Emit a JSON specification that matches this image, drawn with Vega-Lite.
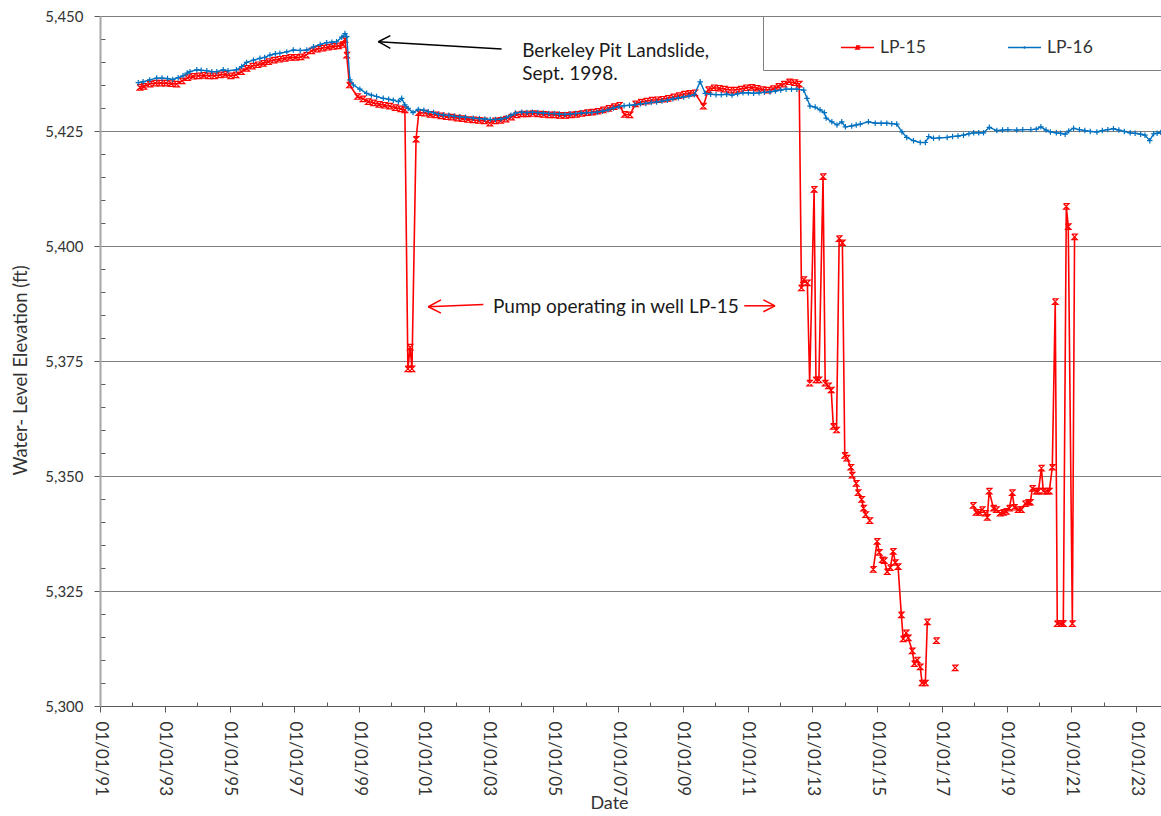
{
  "$schema": "https://vega.github.io/schema/vega-lite/v6.json",
  "width": 1061,
  "height": 690,
  "autosize": {"type": "none"},
  "padding": {"left": 100, "top": 16, "right": 0, "bottom": 110},
  "background": "white",
  "config": {"font": "Lato", "view": {"stroke": null}},
  "datasets": {
    "wl": [
      {"s":"LP-15","t":"1992-03-25","v":5434.5},{"s":"LP-15","t":"1992-05-10","v":5434.7},{"s":"LP-15","t":"1992-07-15","v":5435.2},{"s":"LP-15","t":"1992-09-15","v":5435.4},{"s":"LP-15","t":"1992-11-15","v":5435.4},
      {"s":"LP-15","t":"1993-01-15","v":5435.4},{"s":"LP-15","t":"1993-03-15","v":5435.3},{"s":"LP-15","t":"1993-05-15","v":5435.2},{"s":"LP-15","t":"1993-07-15","v":5435.9},{"s":"LP-15","t":"1993-09-15","v":5436.6},{"s":"LP-15","t":"1993-11-15","v":5436.9},
      {"s":"LP-15","t":"1994-01-15","v":5437.0},{"s":"LP-15","t":"1994-03-15","v":5437.1},{"s":"LP-15","t":"1994-05-15","v":5437.0},{"s":"LP-15","t":"1994-07-15","v":5437.0},{"s":"LP-15","t":"1994-09-15","v":5437.2},{"s":"LP-15","t":"1994-11-15","v":5437.3},
      {"s":"LP-15","t":"1995-01-15","v":5437.0},{"s":"LP-15","t":"1995-03-15","v":5437.2},{"s":"LP-15","t":"1995-05-15","v":5437.9},{"s":"LP-15","t":"1995-07-15","v":5438.6},{"s":"LP-15","t":"1995-09-15","v":5439.1},{"s":"LP-15","t":"1995-11-15","v":5439.4},
      {"s":"LP-15","t":"1996-01-15","v":5439.7},{"s":"LP-15","t":"1996-03-15","v":5440.1},{"s":"LP-15","t":"1996-05-15","v":5440.4},{"s":"LP-15","t":"1996-07-15","v":5440.6},{"s":"LP-15","t":"1996-09-15","v":5440.8},{"s":"LP-15","t":"1996-11-15","v":5441.0},
      {"s":"LP-15","t":"1997-01-15","v":5441.0},{"s":"LP-15","t":"1997-03-15","v":5441.1},{"s":"LP-15","t":"1997-05-15","v":5441.5},{"s":"LP-15","t":"1997-07-15","v":5442.4},{"s":"LP-15","t":"1997-09-15","v":5442.8},{"s":"LP-15","t":"1997-11-15","v":5443.0},
      {"s":"LP-15","t":"1998-01-15","v":5443.2},{"s":"LP-15","t":"1998-03-15","v":5443.4},{"s":"LP-15","t":"1998-05-15","v":5443.5},{"s":"LP-15","t":"1998-07-01","v":5443.8},{"s":"LP-15","t":"1998-07-25","v":5444.9},{"s":"LP-15","t":"1998-08-15","v":5441.5},{"s":"LP-15","t":"1998-09-15","v":5435.0},{"s":"LP-15","t":"1998-12-15","v":5432.5},
      {"s":"LP-15","t":"1999-02-15","v":5432.0},{"s":"LP-15","t":"1999-04-15","v":5431.4},{"s":"LP-15","t":"1999-06-15","v":5431.1},{"s":"LP-15","t":"1999-08-15","v":5430.8},{"s":"LP-15","t":"1999-10-15","v":5430.6},{"s":"LP-15","t":"1999-12-15","v":5430.4},
      {"s":"LP-15","t":"2000-02-15","v":5430.1},{"s":"LP-15","t":"2000-04-15","v":5429.8},{"s":"LP-15","t":"2000-06-01","v":5429.6},{"s":"LP-15","t":"2000-07-05","v":5373.3},{"s":"LP-15","t":"2000-07-30","v":5378.0},{"s":"LP-15","t":"2000-08-20","v":5373.3},{"s":"LP-15","t":"2000-10-05","v":5423.2},{"s":"LP-15","t":"2000-11-05","v":5429.0},
      {"s":"LP-15","t":"2001-01-15","v":5428.9},{"s":"LP-15","t":"2001-03-15","v":5428.6},{"s":"LP-15","t":"2001-05-15","v":5428.5},{"s":"LP-15","t":"2001-07-15","v":5428.3},{"s":"LP-15","t":"2001-09-15","v":5428.1},{"s":"LP-15","t":"2001-11-15","v":5428.0},
      {"s":"LP-15","t":"2002-01-15","v":5427.8},{"s":"LP-15","t":"2002-03-15","v":5427.7},{"s":"LP-15","t":"2002-05-15","v":5427.5},{"s":"LP-15","t":"2002-07-15","v":5427.4},{"s":"LP-15","t":"2002-09-15","v":5427.3},{"s":"LP-15","t":"2002-11-15","v":5427.2},
      {"s":"LP-15","t":"2003-01-15","v":5426.7},{"s":"LP-15","t":"2003-03-15","v":5427.2},{"s":"LP-15","t":"2003-05-15","v":5427.3},{"s":"LP-15","t":"2003-07-15","v":5427.6},{"s":"LP-15","t":"2003-09-15","v":5428.0},{"s":"LP-15","t":"2003-11-15","v":5428.5},
      {"s":"LP-15","t":"2004-01-15","v":5428.7},{"s":"LP-15","t":"2004-03-15","v":5428.7},{"s":"LP-15","t":"2004-05-15","v":5428.8},{"s":"LP-15","t":"2004-07-15","v":5428.7},{"s":"LP-15","t":"2004-09-15","v":5428.6},{"s":"LP-15","t":"2004-11-15","v":5428.5},
      {"s":"LP-15","t":"2005-01-15","v":5428.5},{"s":"LP-15","t":"2005-03-15","v":5428.4},{"s":"LP-15","t":"2005-05-15","v":5428.4},{"s":"LP-15","t":"2005-07-15","v":5428.5},{"s":"LP-15","t":"2005-09-15","v":5428.6},{"s":"LP-15","t":"2005-11-15","v":5428.8},
      {"s":"LP-15","t":"2006-01-15","v":5429.0},{"s":"LP-15","t":"2006-03-15","v":5429.1},{"s":"LP-15","t":"2006-05-15","v":5429.3},{"s":"LP-15","t":"2006-07-15","v":5429.6},{"s":"LP-15","t":"2006-09-15","v":5429.9},{"s":"LP-15","t":"2006-11-15","v":5430.3},
      {"s":"LP-15","t":"2007-01-15","v":5430.6},{"s":"LP-15","t":"2007-03-15","v":5428.6},{"s":"LP-15","t":"2007-05-15","v":5428.5},{"s":"LP-15","t":"2007-07-15","v":5430.9},{"s":"LP-15","t":"2007-09-15","v":5431.3},{"s":"LP-15","t":"2007-11-15","v":5431.5},
      {"s":"LP-15","t":"2008-01-15","v":5431.7},{"s":"LP-15","t":"2008-03-15","v":5431.8},{"s":"LP-15","t":"2008-05-15","v":5431.9},{"s":"LP-15","t":"2008-07-15","v":5432.1},{"s":"LP-15","t":"2008-09-15","v":5432.4},{"s":"LP-15","t":"2008-11-15","v":5432.7},
      {"s":"LP-15","t":"2009-01-15","v":5433.0},{"s":"LP-15","t":"2009-03-15","v":5433.2},{"s":"LP-15","t":"2009-05-15","v":5433.3},{"s":"LP-15","t":"2009-08-20","v":5430.4},{"s":"LP-15","t":"2009-10-15","v":5434.0},{"s":"LP-15","t":"2009-12-15","v":5434.4},
      {"s":"LP-15","t":"2010-02-15","v":5434.3},{"s":"LP-15","t":"2010-04-15","v":5434.1},{"s":"LP-15","t":"2010-06-15","v":5433.9},{"s":"LP-15","t":"2010-08-15","v":5433.9},{"s":"LP-15","t":"2010-10-15","v":5434.1},{"s":"LP-15","t":"2010-12-15","v":5434.4},
      {"s":"LP-15","t":"2011-02-15","v":5434.5},{"s":"LP-15","t":"2011-04-15","v":5434.3},{"s":"LP-15","t":"2011-06-15","v":5434.0},{"s":"LP-15","t":"2011-08-15","v":5433.9},{"s":"LP-15","t":"2011-10-15","v":5434.2},{"s":"LP-15","t":"2011-12-15","v":5434.7},
      {"s":"LP-15","t":"2012-02-15","v":5435.2},{"s":"LP-15","t":"2012-04-15","v":5435.7},{"s":"LP-15","t":"2012-06-15","v":5435.5},{"s":"LP-15","t":"2012-08-05","v":5435.2},
      {"s":"LP-15","t":"2012-08-30","v":5390.9},{"s":"LP-15","t":"2012-09-25","v":5392.7},{"s":"LP-15","t":"2012-11-05","v":5392.0},{"s":"LP-15","t":"2012-12-01","v":5370.2},
      {"s":"LP-15","t":"2013-01-20","v":5412.3},{"s":"LP-15","t":"2013-02-10","v":5370.9},{"s":"LP-15","t":"2013-03-15","v":5370.9},{"s":"LP-15","t":"2013-05-01","v":5415.1},{"s":"LP-15","t":"2013-05-25","v":5370.2},{"s":"LP-15","t":"2013-07-01","v":5369.6},{"s":"LP-15","t":"2013-08-01","v":5368.7},{"s":"LP-15","t":"2013-08-25","v":5360.8},{"s":"LP-15","t":"2013-09-30","v":5360.0},{"s":"LP-15","t":"2013-10-30","v":5401.6},{"s":"LP-15","t":"2013-12-05","v":5400.7},
      {"s":"LP-15","t":"2014-01-01","v":5354.5},{"s":"LP-15","t":"2014-01-25","v":5353.9},{"s":"LP-15","t":"2014-03-10","v":5351.9},{"s":"LP-15","t":"2014-03-25","v":5350.2},{"s":"LP-15","t":"2014-05-10","v":5348.4},{"s":"LP-15","t":"2014-06-01","v":5346.4},{"s":"LP-15","t":"2014-07-10","v":5344.9},{"s":"LP-15","t":"2014-08-01","v":5343.0},{"s":"LP-15","t":"2014-08-25","v":5341.6},{"s":"LP-15","t":"2014-10-10","v":5340.3},
      {"s":"LP-15","t":"2014-10-30","v":null},
      {"s":"LP-15","t":"2014-11-18","v":5329.7},{"s":"LP-15","t":"2015-01-01","v":5335.8},{"s":"LP-15","t":"2015-01-25","v":5333.4},{"s":"LP-15","t":"2015-02-28","v":5331.8},{"s":"LP-15","t":"2015-03-22","v":5331.6},{"s":"LP-15","t":"2015-04-25","v":5329.2},{"s":"LP-15","t":"2015-05-30","v":5330.1},{"s":"LP-15","t":"2015-07-01","v":5333.6},{"s":"LP-15","t":"2015-07-25","v":5331.2},{"s":"LP-15","t":"2015-08-25","v":5330.3},{"s":"LP-15","t":"2015-10-01","v":5319.8},{"s":"LP-15","t":"2015-10-22","v":5314.6},{"s":"LP-15","t":"2015-11-25","v":5315.9},{"s":"LP-15","t":"2015-12-18","v":5314.8},
      {"s":"LP-15","t":"2016-02-01","v":5312.0},{"s":"LP-15","t":"2016-02-25","v":5309.2},{"s":"LP-15","t":"2016-03-28","v":5310.0},{"s":"LP-15","t":"2016-05-01","v":5308.5},{"s":"LP-15","t":"2016-05-22","v":5305.0},{"s":"LP-15","t":"2016-06-28","v":5305.0},{"s":"LP-15","t":"2016-07-20","v":5318.3},
      {"s":"LP-15","t":"2016-09-10","v":null},
      {"s":"LP-15","t":"2016-10-30","v":5314.2},
      {"s":"LP-15","t":"2017-02-01","v":null},
      {"s":"LP-15","t":"2017-05-30","v":5308.3},
      {"s":"LP-15","t":"2017-09-01","v":null},
      {"s":"LP-15","t":"2017-12-20","v":5343.6},{"s":"LP-15","t":"2018-01-22","v":5342.1},{"s":"LP-15","t":"2018-02-28","v":5342.1},{"s":"LP-15","t":"2018-04-01","v":5342.7},{"s":"LP-15","t":"2018-05-05","v":5341.9},{"s":"LP-15","t":"2018-05-28","v":5341.0},{"s":"LP-15","t":"2018-06-18","v":5346.7},{"s":"LP-15","t":"2018-08-05","v":5343.0},{"s":"LP-15","t":"2018-09-08","v":5342.7},{"s":"LP-15","t":"2018-10-20","v":5341.9},{"s":"LP-15","t":"2018-11-25","v":5342.1},{"s":"LP-15","t":"2018-12-28","v":5342.3},
      {"s":"LP-15","t":"2019-02-01","v":5343.0},{"s":"LP-15","t":"2019-03-05","v":5346.4},{"s":"LP-15","t":"2019-03-28","v":5343.2},{"s":"LP-15","t":"2019-05-12","v":5342.7},{"s":"LP-15","t":"2019-06-15","v":5342.7},{"s":"LP-15","t":"2019-07-30","v":5344.0},{"s":"LP-15","t":"2019-09-02","v":5344.3},{"s":"LP-15","t":"2019-09-25","v":5344.3},{"s":"LP-15","t":"2019-10-18","v":5347.3},{"s":"LP-15","t":"2019-12-02","v":5346.7},{"s":"LP-15","t":"2019-12-25","v":5346.7},
      {"s":"LP-15","t":"2020-01-28","v":5351.7},{"s":"LP-15","t":"2020-02-18","v":5346.7},{"s":"LP-15","t":"2020-04-03","v":5346.7},{"s":"LP-15","t":"2020-04-26","v":5346.7},{"s":"LP-15","t":"2020-05-30","v":5351.9},{"s":"LP-15","t":"2020-07-02","v":5387.9},{"s":"LP-15","t":"2020-07-25","v":5317.9},{"s":"LP-15","t":"2020-09-08","v":5317.9},{"s":"LP-15","t":"2020-10-01","v":5317.9},{"s":"LP-15","t":"2020-11-04","v":5408.6},{"s":"LP-15","t":"2020-11-26","v":5404.2},{"s":"LP-15","t":"2021-01-11","v":5317.9},{"s":"LP-15","t":"2021-02-05","v":5402.0},

      {"s":"LP-16","t":"1992-03-08","v":5435.5},{"s":"LP-16","t":"1992-05-01","v":5435.7},{"s":"LP-16","t":"1992-07-15","v":5436.1},{"s":"LP-16","t":"1992-10-01","v":5436.5},{"s":"LP-16","t":"1992-12-01","v":5436.5},
      {"s":"LP-16","t":"1993-02-01","v":5436.4},{"s":"LP-16","t":"1993-04-01","v":5436.2},{"s":"LP-16","t":"1993-06-01","v":5436.6},{"s":"LP-16","t":"1993-07-25","v":5437.0},{"s":"LP-16","t":"1993-09-10","v":5437.6},{"s":"LP-16","t":"1993-10-12","v":5437.9},{"s":"LP-16","t":"1993-12-28","v":5438.3},
      {"s":"LP-16","t":"1994-02-15","v":5438.2},{"s":"LP-16","t":"1994-04-20","v":5438.1},{"s":"LP-16","t":"1994-06-15","v":5437.9},{"s":"LP-16","t":"1994-08-10","v":5437.9},{"s":"LP-16","t":"1994-10-22","v":5438.3},{"s":"LP-16","t":"1994-12-15","v":5438.1},
      {"s":"LP-16","t":"1995-03-20","v":5438.3},{"s":"LP-16","t":"1995-05-18","v":5439.0},{"s":"LP-16","t":"1995-07-12","v":5439.9},{"s":"LP-16","t":"1995-09-28","v":5440.4},{"s":"LP-16","t":"1995-12-10","v":5440.8},
      {"s":"LP-16","t":"1996-02-01","v":5441.0},{"s":"LP-16","t":"1996-04-01","v":5441.5},{"s":"LP-16","t":"1996-06-01","v":5441.8},{"s":"LP-16","t":"1996-07-22","v":5441.9},{"s":"LP-16","t":"1996-10-08","v":5442.2},{"s":"LP-16","t":"1996-12-20","v":5442.6},
      {"s":"LP-16","t":"1997-03-08","v":5442.5},{"s":"LP-16","t":"1997-05-22","v":5442.6},{"s":"LP-16","t":"1997-08-05","v":5443.3},{"s":"LP-16","t":"1997-10-20","v":5443.8},
      {"s":"LP-16","t":"1998-01-01","v":5444.2},{"s":"LP-16","t":"1998-03-01","v":5444.3},{"s":"LP-16","t":"1998-04-22","v":5444.4},{"s":"LP-16","t":"1998-06-20","v":5445.4},{"s":"LP-16","t":"1998-07-26","v":5446.2},{"s":"LP-16","t":"1998-08-15","v":5445.5},{"s":"LP-16","t":"1998-09-20","v":5436.1},{"s":"LP-16","t":"1998-10-30","v":5435.0},
      {"s":"LP-16","t":"1999-01-10","v":5434.1},{"s":"LP-16","t":"1999-03-28","v":5433.2},{"s":"LP-16","t":"1999-05-20","v":5432.8},{"s":"LP-16","t":"1999-07-18","v":5432.5},{"s":"LP-16","t":"1999-10-01","v":5432.1},{"s":"LP-16","t":"1999-12-01","v":5431.9},
      {"s":"LP-16","t":"2000-01-22","v":5431.7},{"s":"LP-16","t":"2000-03-20","v":5431.4},{"s":"LP-16","t":"2000-04-26","v":5432.1},{"s":"LP-16","t":"2000-06-01","v":5430.7},{"s":"LP-16","t":"2000-07-08","v":5429.9},{"s":"LP-16","t":"2000-09-01","v":5429.0},{"s":"LP-16","t":"2000-10-30","v":5429.7},
      {"s":"LP-16","t":"2001-01-01","v":5429.5},{"s":"LP-16","t":"2001-02-20","v":5429.2},{"s":"LP-16","t":"2001-04-20","v":5429.0},{"s":"LP-16","t":"2001-06-15","v":5428.6},{"s":"LP-16","t":"2001-08-10","v":5428.5},{"s":"LP-16","t":"2001-10-10","v":5428.4},{"s":"LP-16","t":"2001-12-10","v":5428.2},
      {"s":"LP-16","t":"2002-02-10","v":5428.1},{"s":"LP-16","t":"2002-04-15","v":5428.0},{"s":"LP-16","t":"2002-07-12","v":5427.8},{"s":"LP-16","t":"2002-09-20","v":5427.7},{"s":"LP-16","t":"2002-11-20","v":5427.6},
      {"s":"LP-16","t":"2003-01-20","v":5427.5},{"s":"LP-16","t":"2003-03-20","v":5427.5},{"s":"LP-16","t":"2003-05-20","v":5427.6},{"s":"LP-16","t":"2003-07-20","v":5427.9},{"s":"LP-16","t":"2003-09-10","v":5428.4},{"s":"LP-16","t":"2003-11-01","v":5428.9},
      {"s":"LP-16","t":"2004-01-10","v":5429.1},{"s":"LP-16","t":"2004-03-10","v":5429.0},{"s":"LP-16","t":"2004-05-10","v":5429.1},{"s":"LP-16","t":"2004-07-10","v":5429.0},{"s":"LP-16","t":"2004-09-10","v":5428.9},{"s":"LP-16","t":"2004-11-10","v":5428.8},
      {"s":"LP-16","t":"2005-01-10","v":5428.8},{"s":"LP-16","t":"2005-03-10","v":5428.7},{"s":"LP-16","t":"2005-05-10","v":5428.6},{"s":"LP-16","t":"2005-07-10","v":5428.7},{"s":"LP-16","t":"2005-09-10","v":5428.8},{"s":"LP-16","t":"2005-11-10","v":5428.9},
      {"s":"LP-16","t":"2006-01-10","v":5429.0},{"s":"LP-16","t":"2006-03-10","v":5429.0},{"s":"LP-16","t":"2006-05-10","v":5429.1},{"s":"LP-16","t":"2006-07-10","v":5429.3},{"s":"LP-16","t":"2006-09-10","v":5429.6},{"s":"LP-16","t":"2006-11-10","v":5430.0},
      {"s":"LP-16","t":"2007-01-10","v":5430.3},{"s":"LP-16","t":"2007-03-10","v":5430.5},{"s":"LP-16","t":"2007-05-10","v":5430.6},{"s":"LP-16","t":"2007-07-10","v":5430.7},{"s":"LP-16","t":"2007-09-10","v":5430.9},{"s":"LP-16","t":"2007-11-10","v":5431.0},
      {"s":"LP-16","t":"2008-01-10","v":5431.2},{"s":"LP-16","t":"2008-03-10","v":5431.3},{"s":"LP-16","t":"2008-05-10","v":5431.5},{"s":"LP-16","t":"2008-07-10","v":5431.7},{"s":"LP-16","t":"2008-09-10","v":5432.0},{"s":"LP-16","t":"2008-11-10","v":5432.2},
      {"s":"LP-16","t":"2009-01-10","v":5432.4},{"s":"LP-16","t":"2009-03-10","v":5432.6},{"s":"LP-16","t":"2009-05-10","v":5432.9},{"s":"LP-16","t":"2009-07-15","v":5435.7},{"s":"LP-16","t":"2009-09-10","v":5433.2},{"s":"LP-16","t":"2009-11-10","v":5433.0},
      {"s":"LP-16","t":"2010-01-10","v":5432.9},{"s":"LP-16","t":"2010-03-10","v":5432.9},{"s":"LP-16","t":"2010-05-10","v":5433.0},{"s":"LP-16","t":"2010-07-10","v":5432.8},{"s":"LP-16","t":"2010-09-10","v":5433.1},{"s":"LP-16","t":"2010-11-10","v":5433.3},
      {"s":"LP-16","t":"2011-01-10","v":5433.3},{"s":"LP-16","t":"2011-03-10","v":5433.2},{"s":"LP-16","t":"2011-05-10","v":5433.3},{"s":"LP-16","t":"2011-07-10","v":5433.4},{"s":"LP-16","t":"2011-09-10","v":5433.5},{"s":"LP-16","t":"2011-11-10","v":5433.7},
      {"s":"LP-16","t":"2012-01-10","v":5433.9},{"s":"LP-16","t":"2012-03-10","v":5434.1},{"s":"LP-16","t":"2012-05-10","v":5434.1},{"s":"LP-16","t":"2012-07-10","v":5434.1},{"s":"LP-16","t":"2012-09-25","v":5433.9},{"s":"LP-16","t":"2012-11-01","v":5432.1},{"s":"LP-16","t":"2012-12-05","v":5430.4},
      {"s":"LP-16","t":"2013-02-01","v":5430.2},{"s":"LP-16","t":"2013-03-28","v":5429.6},{"s":"LP-16","t":"2013-05-15","v":5429.0},{"s":"LP-16","t":"2013-06-05","v":5427.8},{"s":"LP-16","t":"2013-08-08","v":5427.0},{"s":"LP-16","t":"2013-10-05","v":5426.3},{"s":"LP-16","t":"2013-11-28","v":5427.0},
      {"s":"LP-16","t":"2014-01-08","v":5425.9},{"s":"LP-16","t":"2014-03-20","v":5426.1},{"s":"LP-16","t":"2014-05-10","v":5426.3},{"s":"LP-16","t":"2014-06-25","v":5426.5},{"s":"LP-16","t":"2014-09-25","v":5427.0},{"s":"LP-16","t":"2014-12-10","v":5426.7},
      {"s":"LP-16","t":"2015-02-15","v":5426.7},{"s":"LP-16","t":"2015-04-20","v":5426.7},{"s":"LP-16","t":"2015-06-15","v":5426.6},{"s":"LP-16","t":"2015-08-10","v":5426.5},{"s":"LP-16","t":"2015-10-08","v":5424.8},{"s":"LP-16","t":"2015-12-01","v":5423.6},
      {"s":"LP-16","t":"2016-02-15","v":5422.9},{"s":"LP-16","t":"2016-05-01","v":5422.5},{"s":"LP-16","t":"2016-06-28","v":5422.5},{"s":"LP-16","t":"2016-08-05","v":5423.8},{"s":"LP-16","t":"2016-09-28","v":5423.4},{"s":"LP-16","t":"2016-12-01","v":5423.5},
      {"s":"LP-16","t":"2017-03-01","v":5423.6},{"s":"LP-16","t":"2017-05-01","v":5423.8},{"s":"LP-16","t":"2017-07-01","v":5423.9},{"s":"LP-16","t":"2017-09-01","v":5424.1},{"s":"LP-16","t":"2017-11-01","v":5424.4},{"s":"LP-16","t":"2017-12-25","v":5424.6},
      {"s":"LP-16","t":"2018-02-20","v":5424.6},{"s":"LP-16","t":"2018-04-15","v":5424.6},{"s":"LP-16","t":"2018-06-20","v":5425.8},{"s":"LP-16","t":"2018-09-12","v":5425.1},{"s":"LP-16","t":"2018-11-15","v":5425.2},
      {"s":"LP-16","t":"2019-01-15","v":5425.3},{"s":"LP-16","t":"2019-04-25","v":5425.2},{"s":"LP-16","t":"2019-07-01","v":5425.3},{"s":"LP-16","t":"2019-10-01","v":5425.3},{"s":"LP-16","t":"2019-12-01","v":5425.4},
      {"s":"LP-16","t":"2020-01-22","v":5425.9},{"s":"LP-16","t":"2020-03-20","v":5425.2},{"s":"LP-16","t":"2020-05-08","v":5424.8},{"s":"LP-16","t":"2020-07-15","v":5424.6},{"s":"LP-16","t":"2020-09-01","v":5424.5},{"s":"LP-16","t":"2020-10-22","v":5424.3},{"s":"LP-16","t":"2020-12-01","v":5425.0},
      {"s":"LP-16","t":"2021-01-25","v":5425.6},{"s":"LP-16","t":"2021-04-01","v":5425.3},{"s":"LP-16","t":"2021-06-01","v":5425.1},{"s":"LP-16","t":"2021-08-01","v":5424.9},{"s":"LP-16","t":"2021-10-15","v":5424.8},{"s":"LP-16","t":"2021-12-15","v":5425.1},
      {"s":"LP-16","t":"2022-02-15","v":5425.3},{"s":"LP-16","t":"2022-04-20","v":5425.5},{"s":"LP-16","t":"2022-06-20","v":5425.2},{"s":"LP-16","t":"2022-08-20","v":5424.9},{"s":"LP-16","t":"2022-10-26","v":5424.6},{"s":"LP-16","t":"2022-12-20","v":5424.5},
      {"s":"LP-16","t":"2023-02-20","v":5424.3},{"s":"LP-16","t":"2023-04-10","v":5424.1},{"s":"LP-16","t":"2023-06-03","v":5422.9},{"s":"LP-16","t":"2023-07-17","v":5424.4},{"s":"LP-16","t":"2023-08-25","v":5424.5},{"s":"LP-16","t":"2023-10-05","v":5424.7}
    ],
    "ann": [
      {"t":"2004-01-15","v":5441.15,"label":"Berkeley Pit Landslide,"},
      {"t":"2004-01-15","v":5436.1,"label":"Sept. 1998."},
      {"t":"2003-02-20","v":5385.4,"label":"Pump operating in well LP-15"}
    ],
    "arrK": [
      {"t":"2003-05-28","v":5442.83,"t2":"1999-08-07","v2":5444.41},
      {"t":"1999-08-07","v":5444.41,"t2":"1999-12-20","v2":5445.72},
      {"t":"1999-08-07","v":5444.41,"t2":"1999-12-20","v2":5442.98}
    ],
    "arrR": [
      {"t":"2002-11-03","v":5387.3,"t2":"2001-02-20","v2":5386.8},
      {"t":"2001-02-20","v":5386.8,"t2":"2001-07-13","v2":5388.3},
      {"t":"2001-02-20","v":5386.8,"t2":"2001-07-13","v2":5385.4},
      {"t":"2010-11-24","v":5387.0,"t2":"2011-11-06","v2":5387.0},
      {"t":"2011-11-06","v":5387.0,"t2":"2011-06-28","v2":5388.3},
      {"t":"2011-11-06","v":5387.0,"t2":"2011-06-28","v2":5385.7}
    ]
  },
  "encoding": {
    "x": {
      "field": "t", "type": "temporal",
      "scale": {"type": "utc", "domain": [{"year":1991,"month":1,"date":1,"utc":true},{"year":2023,"month":10,"date":8,"utc":true}]},
      "axis": {
        "title": "Date",
        "values": [
          {"year":1991,"utc":true},{"year":1992,"utc":true},{"year":1993,"utc":true},{"year":1994,"utc":true},{"year":1995,"utc":true},{"year":1996,"utc":true},{"year":1997,"utc":true},{"year":1998,"utc":true},{"year":1999,"utc":true},{"year":2000,"utc":true},{"year":2001,"utc":true},
          {"year":2002,"utc":true},{"year":2003,"utc":true},{"year":2004,"utc":true},{"year":2005,"utc":true},{"year":2006,"utc":true},{"year":2007,"utc":true},{"year":2008,"utc":true},{"year":2009,"utc":true},{"year":2010,"utc":true},{"year":2011,"utc":true},
          {"year":2012,"utc":true},{"year":2013,"utc":true},{"year":2014,"utc":true},{"year":2015,"utc":true},{"year":2016,"utc":true},{"year":2017,"utc":true},{"year":2018,"utc":true},{"year":2019,"utc":true},{"year":2020,"utc":true},{"year":2021,"utc":true},
          {"year":2022,"utc":true},{"year":2023,"utc":true}
        ],
        "labelExpr": "utcyear(datum.value) % 2 == 1 ? utcFormat(datum.value, '%m/%d/%y') : ''",
        "labelAngle": 90,
        "labelAlign": "left",
        "labelBaseline": "middle",
        "labelFontSize": 17,
        "labelColor": "#333333",
        "labelPadding": 9,
        "labelOverlap": false,
        "labelFlush": false,
        "tickSize": {"condition": {"test": "utcyear(datum.value) % 2 == 1", "value": 6}, "value": -4},
        "tickColor": "#595959",
        "domainColor": "#595959",
        "grid": false,
        "titleFontSize": 18,
        "titleFontWeight": "normal",
        "titleColor": "#333333",
        "titleX": 509,
        "titleY": 97,
        "titleBaseline": "middle"
      }
    },
    "y": {
      "field": "v", "type": "quantitative",
      "scale": {"domain": [5300, 5450], "nice": false, "zero": false},
      "axis": {
        "title": "Water- Level Elevation (ft)",
        "values": [5300,5305,5310,5315,5320,5325,5330,5335,5340,5345,5350,5355,5360,5365,5370,5375,5380,5385,5390,5395,5400,5405,5410,5415,5420,5425,5430,5435,5440,5445,5450],
        "labelExpr": "datum.value % 25 == 0 ? format(datum.value, ',') : ''",
        "labelFontSize": 15,
        "labelColor": "#333333",
        "labelPadding": 11,
        "tickSize": {"condition": {"test": "datum.value % 25 == 0", "value": 6}, "value": -5},
        "tickColor": "#595959",
        "domainColor": "#a6a6a6",
        "domainWidth": 2,
        "grid": true,
        "gridColor": "#7f7f7f",
        "gridOpacity": {"condition": {"test": "datum.value % 25 == 0", "value": 1}, "value": 0},
        "titleFontSize": 18.5,
        "titleFontWeight": "normal",
        "titleColor": "#333333",
        "titleX": -80,
        "titleY": 354,
        "titleBaseline": "middle"
      }
    }
  },
  "layer": [
    {
      "data": {"name": "wl", "format": {"parse": {"t": "date"}}},
      "encoding": {
        "color": {
          "field": "s", "type": "nominal",
          "scale": {"domain": ["LP-15", "LP-16"], "range": ["#ff0000", "#0070c0"]},
          "legend": {
            "orient": "none", "legendX": 663, "legendY": 0,
            "direction": "horizontal",
            "title": "\u00a0", "titleOrient": "left", "titlePadding": 63, "titleFontSize": 10,
            "fillColor": "white", "strokeColor": "#7f7f7f",
            "padding": 14,
            "labelFontSize": 17.5, "labelColor": "#333333", "labelOffset": 5, "labelLimit": 500,
            "labelExpr": "datum.label == 'LP-16' ? datum.label + '\u00a0\u00a0\u00a0\u00a0\u00a0\u00a0\u00a0\u00a0\u00a0\u00a0\u00a0\u00a0\u00a0\u00a0\u00a0\u00a0\u00a0\u00a0\u00a0\u200b' : datum.label",
            "symbolSize": 1089, "symbolStrokeWidth": 1.5,
            "columnPadding": 79,
            "encode": {"symbols": {"update": {
              "shape": {"signal": "datum.value == 'LP-15' ? 'M-1,0H1M-0.09,-0.09H0.09L-0.09,0.09H0.09L-0.09,-0.09' : 'M-1,0H1M-0.08,0H0.08M0,-0.08V0.08'"},
              "fill": {"value": "transparent"}
            }}}
          }
        }
      },
      "layer": [
        {
          "transform": [{"filter": "datum.s == 'LP-15'"}],
          "mark": {"type": "line", "strokeWidth": 1.6, "clip": true,
            "point": {"shape": "M-1,-1H1L-1,1H1L-1,-1", "filled": false, "size": 30, "strokeWidth": 1.2}}
        },
        {
          "transform": [{"filter": "datum.s == 'LP-16'"}],
          "mark": {"type": "line", "strokeWidth": 1.4, "clip": true,
            "point": {"shape": "M-1,0H1M0,-1V1", "filled": false, "size": 30, "strokeWidth": 1.2}}
        }
      ]
    },
    {
      "data": {"name": "ann", "format": {"parse": {"t": "date"}}},
      "mark": {"type": "text", "align": "left", "baseline": "alphabetic", "fontSize": 19, "color": "#1a1a1a"},
      "encoding": {"text": {"field": "label"}}
    },
    {
      "data": {"name": "arrK", "format": {"parse": {"t": "date", "t2": "date"}}},
      "mark": {"type": "rule", "color": "#000000", "strokeWidth": 1.5},
      "encoding": {"x2": {"field": "t2"}, "y2": {"field": "v2"}}
    },
    {
      "data": {"name": "arrR", "format": {"parse": {"t": "date", "t2": "date"}}},
      "mark": {"type": "rule", "color": "#ff0000", "strokeWidth": 1.5},
      "encoding": {"x2": {"field": "t2"}, "y2": {"field": "v2"}}
    }
  ]
}
